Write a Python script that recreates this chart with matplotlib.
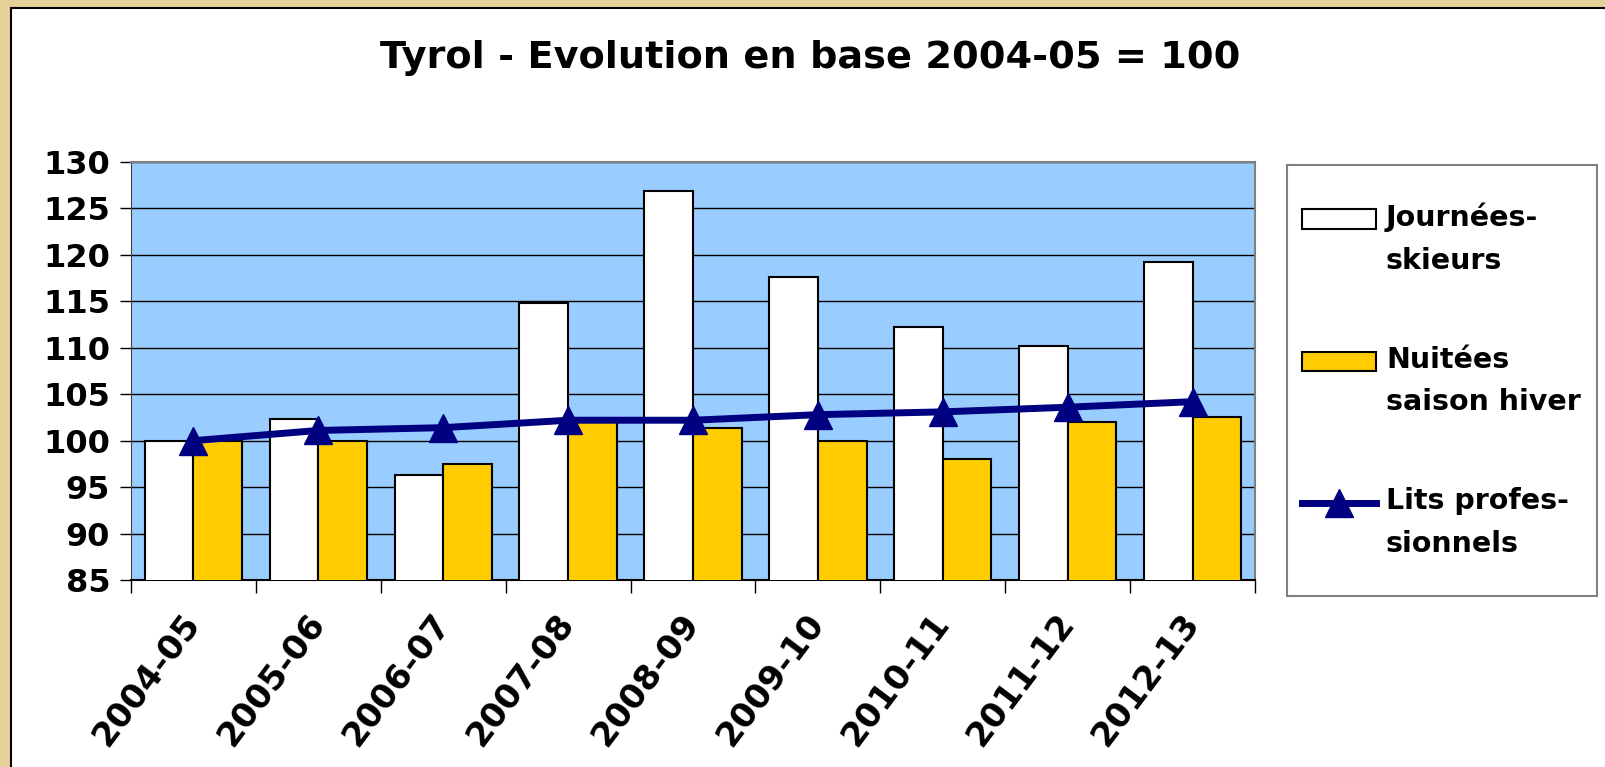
import numpy as np
import matplotlib
matplotlib.use("Agg")
from matplotlib import pyplot as plt
from matplotlib.patches import Rectangle
from matplotlib.legend_handler import HandlerPatch, HandlerLine2D

# saisons
seasons = ['2004-05', '2005-06', '2006-07', '2007-08', '2008-09',
           '2009-10', '2010-11', '2011-12', '2012-13']

journees = [100.0, 102.3, 96.3, 114.8, 126.9, 117.6, 112.2, 110.2, 119.2]
nuitees = [100.0, 100.0, 97.5, 102.2, 101.4, 100.0, 98.0, 102.0, 102.6]
lits = [100.0, 101.1, 101.4, 102.2, 102.2, 102.8, 103.1, 103.6, 104.2]

label_j = 'Journées-\nskieurs'
label_n = 'Nuitées\nsaison hiver'
label_l = 'Lits profes-\nsionnels'

plt.rcParams['font.family'] = 'DejaVu Sans'
plt.rcParams['font.weight'] = 'bold'

LEG_FS = 20.5
LEG_LS = 1.65
SHIFT = 0.5 * LEG_LS * 0.88 * LEG_FS  # move handle up to first text line


# handles sit on the first line of the label, like excel does
class PatchUp(HandlerPatch):
    def create_artists(self, legend, orig_handle, xdescent, ydescent, width, height, fontsize, trans):
        return super().create_artists(legend, orig_handle, xdescent, ydescent - SHIFT,
                                      width, height, fontsize, trans)


class LineUp(HandlerLine2D):
    def create_artists(self, legend, orig_handle, xdescent, ydescent, width, height, fontsize, trans):
        return super().create_artists(legend, orig_handle, xdescent, ydescent - 2*SHIFT,
                                      width, height, fontsize, trans)


fig = plt.figure(figsize=(16.05, 7.67), dpi=100, facecolor='#E6D299')
# white frame with black border
fig.patches.append(Rectangle((11/1605, -0.1), 1.2, 1.1 - 8/767, transform=fig.transFigure,
                             facecolor='white', edgecolor='black', linewidth=1.5, zorder=-5))
# legend frame
fig.patches.append(Rectangle((1287/1605, 1 - 596/767), (1597-1287)/1605, (596-165)/767,
                             transform=fig.transFigure, facecolor='white',
                             edgecolor='#808080', linewidth=1.5, zorder=-4))

ax = fig.add_axes([131/1605, 1 - 580/767, (1255-131)/1605, (580-162)/767])
ax.set_facecolor('#99CCFF')

x = np.arange(len(seasons))
w = 0.39
b1 = ax.bar(x - w/2, journees, w, color='white', edgecolor='black', linewidth=1.5,
            label=label_j, zorder=3)
b2 = ax.bar(x + w/2, nuitees, w, color='#FFCC00', edgecolor='black', linewidth=1.5,
            label=label_n, zorder=3)
l1, = ax.plot(x, lits, color='#000080', linewidth=5, marker='^', markersize=20,
              label=label_l, zorder=4)

ax.set_xlim(-0.5, len(seasons) - 0.5)
ax.set_ylim(85, 130)
ax.set_yticks(np.arange(85, 131, 5))
ax.yaxis.grid(True, color='black', linewidth=1)
ax.set_axisbelow(True)
ax.tick_params(axis='y', labelsize=23, length=8, width=1, direction='out', pad=7)

ax.set_xticks(np.arange(-0.5, len(seasons), 1))
ax.set_xticklabels([])
ax.set_xticks(x, minor=True)
ax.set_xticklabels(seasons, minor=True, rotation=53, ha='right', va='center',
                   rotation_mode='anchor', fontsize=24.5, fontweight='bold')
ax.tick_params(axis='x', which='major', length=9, width=1, direction='out')
ax.tick_params(axis='x', which='minor', length=0, pad=27)

for s in ['top', 'right']:
    ax.spines[s].set_color('#808080')
    ax.spines[s].set_linewidth(1.5)
ax.spines['left'].set_color('#404040')
ax.spines['bottom'].set_color('black')
ax.spines['bottom'].set_linewidth(1.5)

fig.text(0.505, 0.924, 'Tyrol - Evolution en base 2004-05 = 100', ha='center', va='center',
         fontsize=27.5, fontweight='bold')

h1, h2 = b1[0], b2[0]
leg = ax.legend([h1, h2, l1], [label_j, label_n, label_l],
                handler_map={h1: PatchUp(), h2: PatchUp(), l1: LineUp()},
                loc='upper left', bbox_to_anchor=(1302/1605, 1 - 203/767),
                bbox_transform=fig.transFigure, fontsize=LEG_FS, frameon=False,
                handlelength=2.6, handleheight=0.7,
                labelspacing=2.5, borderpad=0, handletextpad=0.35, borderaxespad=0)
for t in leg.get_texts():
    t.set_fontweight('bold')
    t.set_linespacing(LEG_LS)

fig.savefig('out.png', dpi=100, facecolor=fig.get_facecolor())
